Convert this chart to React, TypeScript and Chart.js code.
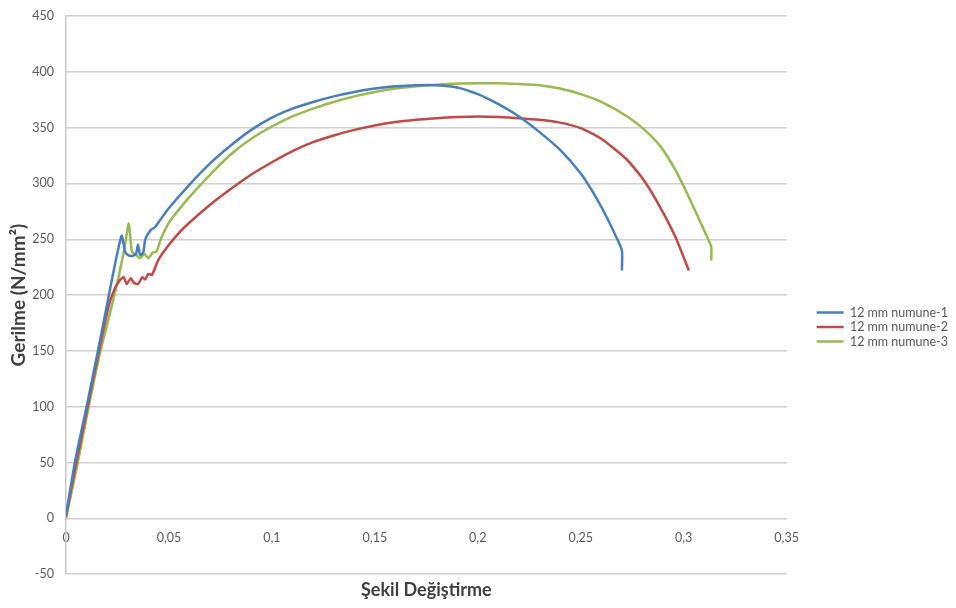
import React, { useEffect, useRef } from "react";
import { Chart, registerables } from "chart.js";

Chart.register(...registerables);

const seriesNames = ["12 mm numune-1", "12 mm numune-2", "12 mm numune-3"];
const seriesColors = ["#4a7ebb", "#be4b48", "#98b954"];

const strain1 = [0, 0.0045, 0.010, 0.0155, 0.020, 0.0235, 0.027, 0.0287, 0.030, 0.032, 0.034, 0.035, 0.036, 0.0375, 0.0385, 0.041, 0.0433, 0.046, 0.05, 0.06, 0.07, 0.08, 0.09, 0.10, 0.11, 0.12, 0.13, 0.14, 0.15, 0.16, 0.17, 0.18, 0.19, 0.20, 0.21, 0.22, 0.23, 0.24, 0.25, 0.256, 0.262, 0.267, 0.27, 0.27];
const stress1 = [3, 52, 100, 150, 192, 225, 253, 239, 236, 235, 237, 245, 236, 238, 250, 258, 261, 268, 278, 299, 318, 334, 348, 359, 367, 373, 378, 382, 385, 387, 388, 388, 386, 380, 371, 360, 346, 330, 309, 292, 272, 253, 240, 222];

const strain2 = [0, 0.005, 0.0105, 0.016, 0.021, 0.024, 0.026, 0.028, 0.0295, 0.0315, 0.033, 0.035, 0.037, 0.0384, 0.040, 0.0417, 0.045, 0.05, 0.055, 0.06, 0.07, 0.08, 0.09, 0.10, 0.11, 0.12, 0.13, 0.14, 0.15, 0.16, 0.17, 0.18, 0.19, 0.20, 0.21, 0.22, 0.23, 0.24, 0.25, 0.26, 0.2726, 0.281, 0.2888, 0.296, 0.3025];
const stress2 = [2, 50, 100, 150, 192, 207, 213, 216, 210, 215, 211, 210, 216, 214, 219, 218, 232, 245, 256, 265, 281, 295, 308, 319, 329, 337, 343, 348, 352, 355, 357, 358.5, 359.5, 360, 359.5, 358.5, 357, 354.5, 349.5, 340, 321, 302, 278, 252, 222];

const strain3 = [0, 0.0055, 0.011, 0.0165, 0.0215, 0.0254, 0.0285, 0.0305, 0.032, 0.034, 0.036, 0.038, 0.040, 0.042, 0.044, 0.046, 0.05, 0.055, 0.06, 0.07, 0.08, 0.09, 0.10, 0.11, 0.12, 0.13, 0.14, 0.15, 0.16, 0.17, 0.18, 0.19, 0.20, 0.21, 0.22, 0.23, 0.24, 0.25, 0.26, 0.2726, 0.281, 0.2888, 0.296, 0.3017, 0.3114, 0.3134, 0.3134];
const stress3 = [0, 48, 100, 148, 185, 215, 243, 264, 239, 236, 233, 237, 233, 238, 239, 250, 265, 277, 288, 308, 326, 340, 351, 360, 367, 373, 378, 382, 385, 387, 388.5, 389.5, 389.8, 389.8, 389, 388, 385, 380, 373, 360, 348, 333, 312, 291, 252, 243, 231];

const xTitle = "Şekil Değiştirme";
const yTitle = "Gerilme (N/mm²)";

const FONT = "Lato, 'Open Sans', sans-serif";

function toPoints(xs: number[], ys: number[]) {
  return xs.map((x, i) => ({ x, y: ys[i] }));
}

export default function App() {
  const ref = useRef<HTMLCanvasElement | null>(null);

  useEffect(() => {
    if (!ref.current) return;
    const strains = [strain1, strain2, strain3];
    const stresses = [stress1, stress2, stress3];
    const chart = new Chart(ref.current, {
      type: "line",
      data: {
        datasets: seriesNames.map((name, i) => ({
          label: name,
          data: toPoints(strains[i], stresses[i]),
          borderColor: seriesColors[i],
          backgroundColor: seriesColors[i],
          borderWidth: 2.5,
          pointRadius: 0,
          tension: 0.2,
          fill: false,
        })),
      },
      options: {
        animation: false,
        responsive: true,
        maintainAspectRatio: false,
        layout: { padding: { left: 0, top: 8, right: -10, bottom: 0 } },
        scales: {
          x: {
            type: "linear",
            position: { y: 0 } as any,
            min: 0,
            max: 0.35,
            grid: { display: false },
            border: { display: false },
            ticks: {
              stepSize: 0.05,
              padding: 4,
              color: "#595959",
              font: { family: FONT, size: 12.5 },
              callback: (v: any) => Number(Number(v).toFixed(2)).toString().replace(".", ","),
            },
            afterFit: (s: any) => {
              s.paddingTop = 0;
              s.paddingLeft = 0;
              s.paddingRight = 0;
            },
          },
          x2: {
            type: "linear",
            position: "bottom",
            min: 0,
            max: 0.35,
            grid: { display: false },
            border: { display: false },
            ticks: { display: false },
            title: {
              display: true,
              text: xTitle,
              color: "#404040",
              font: { family: FONT, size: 18, weight: "bold", lineHeight: 1.1 },
              padding: { top: -2, bottom: 8 },
            },
          },
          y: {
            type: "linear",
            min: -50,
            max: 450,
            grid: { color: "#d0d0d0", lineWidth: 1.5, drawTicks: false },
            border: { display: true, color: "#c8c8c8", width: 1.5 },
            ticks: {
              stepSize: 50,
              padding: 12,
              color: "#595959",
              font: { family: FONT, size: 12.5 },
            },
            title: {
              display: true,
              text: yTitle,
              color: "#404040",
              font: { family: FONT, size: 19, weight: "bold", lineHeight: 1.1 },
              padding: { top: 0, bottom: 4 },
            },
            afterFit: (s: any) => {
              s.width = 58;
              s.paddingTop = 0;
              s.paddingBottom = 0;
            },
          },
          ySpacer: {
            type: "linear",
            position: "right",
            min: -50,
            max: 450,
            grid: { display: false },
            border: { display: false },
            ticks: { display: false },
            title: {
              display: true,
              text: " ",
              font: { size: 10 },
              padding: { top: 4, bottom: 4 },
            },
          },
        },
        plugins: {
          legend: {
            position: "right",
            title: {
              display: true,
              text: " ",
              font: { size: 1 },
              padding: { top: 14.5, bottom: 14.5 },
            },
            labels: {
              usePointStyle: true,
              pointStyle: "line",
              pointStyleWidth: 27,
              padding: 2,
              color: "#595959",
              font: { family: FONT, size: 12.5 },
            },
          },
          tooltip: { enabled: false },
        },
      },
    });
    return () => chart.destroy();
  }, []);

  return (
    <div style={{ width: 940, height: 600, position: "relative" }}>
      <canvas ref={ref} />
    </div>
  );
}
